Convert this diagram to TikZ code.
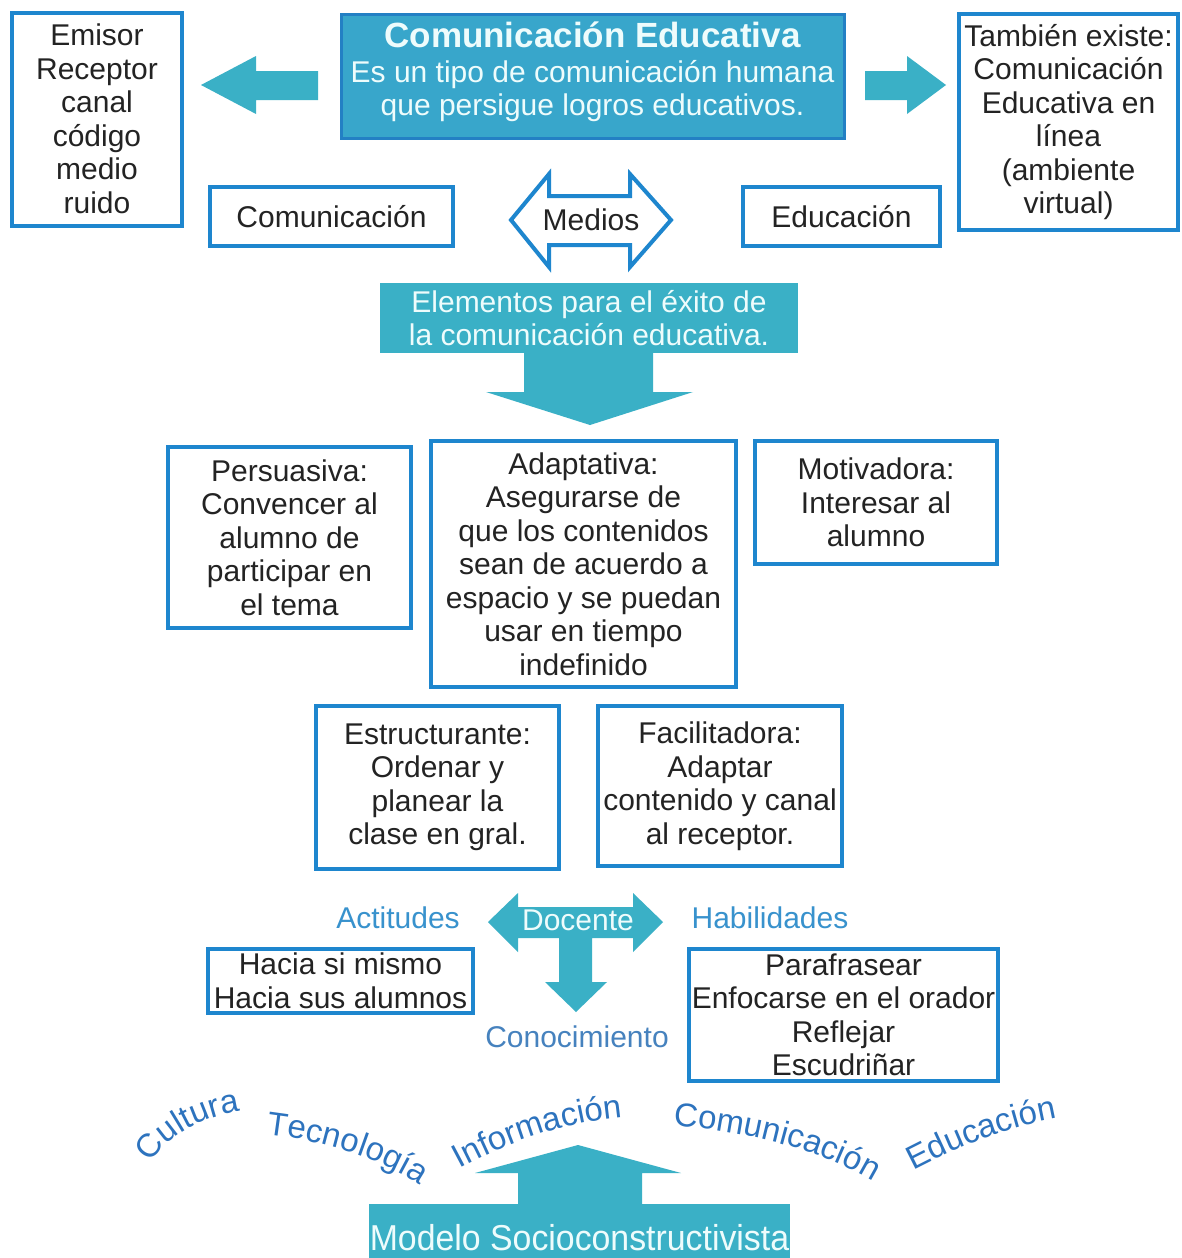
\documentclass[tikz,border=0pt]{standalone}
\usepackage{fontspec}
\usepackage{graphicx}
\setmainfont{Liberation Sans}
\usetikzlibrary{decorations.text}
\definecolor{boxblue}{RGB}{30,134,206}
\definecolor{arrowteal}{RGB}{58,176,198}
\definecolor{mainfill}{RGB}{56,166,203}
\definecolor{mainborder}{RGB}{35,128,196}
\definecolor{txtdark}{RGB}{35,35,35}
\definecolor{lblblue}{RGB}{56,146,205}
\definecolor{knowblue}{RGB}{70,130,190}
\definecolor{wordblue}{RGB}{45,115,190}
\definecolor{palewhite}{RGB}{238,252,252}
\newcommand\wordfont{\fontsize{33}{33}\selectfont\color{wordblue}}
\tikzset{
  box/.style={draw=boxblue, line width=4pt, fill=white, text=txtdark,
    font=\fontsize{30}{33.5}\selectfont, align=center, inner sep=0pt, outer sep=0pt},
  tealbox/.style={fill=arrowteal, text=palewhite,
    font=\fontsize{30}{33.5}\selectfont, align=center, inner sep=0pt, outer sep=0pt},
  lbl/.style={text=lblblue, font=\fontsize{30}{33.5}\selectfont, inner sep=0pt},
  whitetext/.style={text=palewhite, font=\fontsize{30}{33.5}\selectfont, align=center, inner sep=0pt},
  blockarrow/.style={fill=arrowteal},
  curveword/.style={decorate, decoration={text along path, text align=center, text={#1}}}
}
\begin{document}
\begin{tikzpicture}[x=1pt,y=-1pt]
\useasboundingbox (0,0) rectangle (1181,1258);
\fill[white] (0,0) rectangle (1181,1258);

% top row
\node[box, minimum width=170, minimum height=213] (emisor) at (97,119)
  {Emisor\\Receptor\\canal\\código\\medio\\ruido};
\node[draw=mainborder, line width=3pt, fill=mainfill, inner sep=0pt,
  minimum width=503, minimum height=124] (main) at (592.5,76) {};
\node[whitetext] (maintext) at (592.5,72)
  {{\fontsize{35}{37}\selectfont\bfseries Comunicación Educativa}\\[1pt]
   Es un tipo de comunicación humana\\que persigue logros educativos.};
\node[box, minimum width=219, minimum height=216] (tambien) at (1068.5,122)
  {También existe:\\Comunicación\\Educativa en\\línea\\(ambiente\\virtual)};

% side arrows
\fill[blockarrow] (201,85) -- (256,56) -- (256,71) -- (318,71) -- (318,100)
  -- (256,100) -- (256,114) -- cycle;
\fill[blockarrow] (946,85) -- (907,56) -- (907,71) -- (865,71) -- (865,100)
  -- (907,100) -- (907,114) -- cycle;

% second row
\node[box, minimum width=243, minimum height=59] (comunic) at (331.5,216.5) {Comunicación};
\node[box, minimum width=197, minimum height=59] (educ) at (841.5,216.5) {Educación};
\filldraw[draw=boxblue, fill=white, line width=4pt, line join=miter]
  (511,220) -- (549,174) -- (549,196) -- (630,196) -- (630,174) -- (671,220)
  -- (630,267) -- (630,245) -- (549,245) -- (549,267) -- cycle;
\node[text=txtdark, font=\fontsize{30}{33.5}\selectfont, inner sep=0pt] (medios) at (591,220) {Medios};

% elementos
\node[tealbox, minimum width=418, minimum height=70] (elem) at (589,318)
  {Elementos para el éxito de\\la comunicación educativa.};
\fill[blockarrow] (524,352) -- (653,352) -- (653,392) -- (693,392) -- (590,425)
  -- (486,392) -- (524,392) -- cycle;

% element boxes
\node[box, minimum width=243, minimum height=181] (persu) at (289.5,537.5)
  {Persuasiva:\\Convencer al\\alumno de\\participar en\\el tema};
\node[box, minimum width=305, minimum height=246] (adapt) at (583.5,564)
  {Adaptativa:\\Asegurarse de\\que los contenidos\\sean de acuerdo a\\espacio y se puedan\\usar en tiempo\\indefinido};
\node[box, minimum width=242, minimum height=123] (motiv) at (876,502.5)
  {Motivadora:\\Interesar al\\alumno};
\node[box, minimum width=243, minimum height=163] (estruc) at (437.5,787.5)
  {Estructurante:\\Ordenar y\\planear la\\clase en gral.};
\node[box, minimum width=244, minimum height=160] (facil) at (720,786)
  {Facilitadora:\\Adaptar\\contenido y canal\\al receptor.};

% docente
\fill[blockarrow] (488,922) -- (518,893) -- (518,907) -- (633,907) -- (633,893)
  -- (663,922) -- (633,952) -- (633,938) -- (592,938) -- (592,982) -- (607,982)
  -- (576,1012) -- (545,982) -- (559,982) -- (559,938) -- (518,938) -- (518,952) -- cycle;
\node[whitetext] (docente) at (578,920) {Docente};
\node[lbl] (actit) at (398,918) {Actitudes};
\node[lbl] (habil) at (770,918) {Habilidades};
\node[lbl, text=knowblue] (conoc) at (577,1037) {Conocimiento};
\node[box, minimum width=265, minimum height=64] (hacia) at (340.5,981)
  {Hacia si mismo\\Hacia sus alumnos};
\node[box, minimum width=309, minimum height=132] (parafr) at (843.5,1015)
  {Parafrasear\\Enfocarse en el orador\\Reflejar\\Escudriñar};

% curved words
\path[curveword={|\wordfont|Cultura}] (146,1176) .. controls (156,1140) and (200,1114) .. (254,1110);
\path[curveword={|\wordfont|Tecnología}] (255,1133) .. controls (320,1139) and (385,1158) .. (430,1192);
\path[curveword={|\wordfont|Información}] (448,1175) .. controls (500,1145) and (565,1120) .. (636,1116);
\path[curveword={|\wordfont|Comunicación}] (658,1124) .. controls (740,1130) and (825,1148) .. (886,1190);
\path[curveword={|\wordfont|Educación}] (902,1176) .. controls (950,1150) and (1005,1126) .. (1070,1116);

% bottom
\fill[blockarrow] (578,1145) -- (681,1173) -- (642,1173) -- (642,1206) -- (518,1206)
  -- (518,1173) -- (475,1173) -- cycle;
\node[tealbox, minimum width=421, minimum height=54] (modelo) at (579.5,1231) {};
\node[whitetext] (modelotext) at (579.5,1238)
  {\scalebox{0.94}[1]{\fontsize{36}{36}\selectfont Modelo Socioconstructivista}};
\end{tikzpicture}
\end{document}
